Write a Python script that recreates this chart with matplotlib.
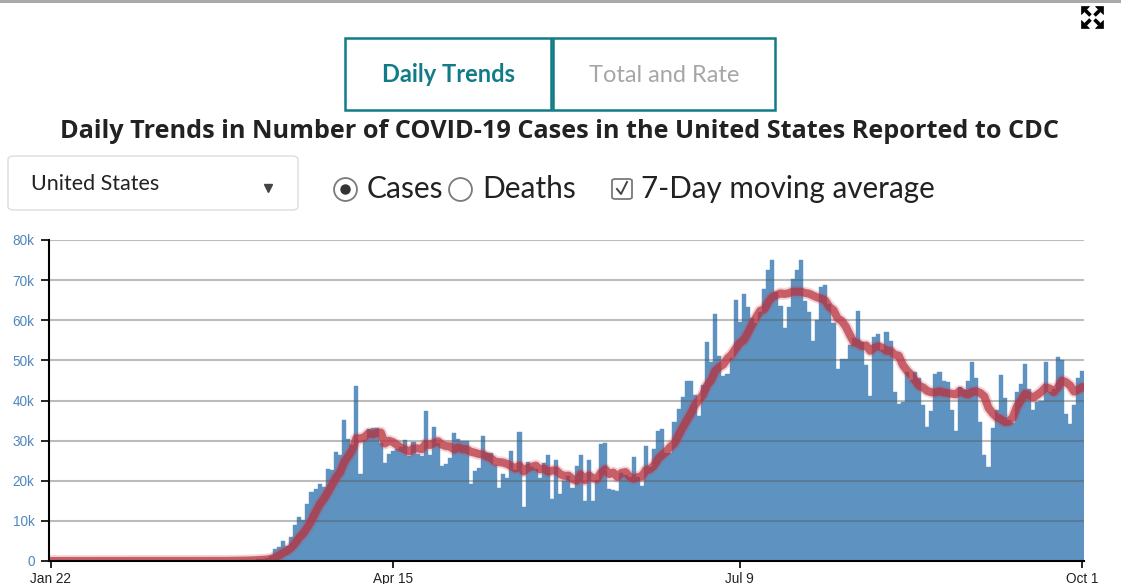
import matplotlib
matplotlib.use("Agg")
import matplotlib.pyplot as plt
import numpy as np
import pandas as pd
from matplotlib.patches import Rectangle, FancyBboxPatch, Polygon
from matplotlib.lines import Line2D

# ---------------- data: daily new COVID-19 cases reported to CDC (2020) ----------------
jan = [0, 0, 0, 0, 0, 0, 0, 0, 0, 0]                                   # Jan 22-31
feb = [0, 0, 0, 0, 0, 0, 0, 0, 0, 0, 0, 0, 0, 0, 0, 0, 0, 0, 0, 0,
       0, 0, 0, 0, 0, 0, 0, 0, 10]
mar = [20, 25, 30, 40, 60, 80, 100, 120, 150, 200, 250, 350, 450, 550, 700, 1200,
       2900, 3500, 5000, 3700, 6000, 8900, 11000, 10100, 14100, 17100, 18000, 19300,
       18400, 22900, 22600]
apr = [27200, 26400, 35100, 30500, 29000, 43600, 21600, 30100, 33000, 33200, 33200,
       29400, 24400, 26600, 27400, 28000, 28500, 30100, 26200, 29600, 26600, 26100,
       37300, 26500, 33300, 29500, 23600, 24100, 25600, 31800]
may = [30500, 29800, 29800, 19100, 22400, 23300, 31100, 26800, 26800, 23900, 18200,
       21600, 20800, 27300, 22600, 32100, 13500, 24600, 23400, 22900, 20700, 24300,
       26300, 15500, 25100, 16600, 19900, 21300, 18200, 23600, 26300]
jun = [15000, 25100, 15000, 20100, 29100, 29300, 18000, 17700, 17500, 22000, 21500,
       21000, 25800, 21000, 18800, 28700, 23500, 27900, 32500, 32800, 26800, 27000,
       34700, 37900, 40900, 44900, 44900, 41400, 36200, 43900]
jul = [54500, 49700, 61500, 51100, 46100, 46600, 50500, 65000, 59600, 66500, 63400,
       60600, 59200, 62100, 67700, 72400, 75000, 67000, 63500, 58100, 63400, 70400,
       72500, 75000, 64800, 62100, 54900, 60100, 68400, 68800, 64000]
aug = [59400, 47900, 50300, 50400, 53900, 55500, 62300, 54700, 48900, 41000, 55800,
       56600, 52600, 57000, 54800, 42100, 39200, 39700, 47000, 45100, 47000, 45600,
       38800, 33400, 37400, 46600, 47100, 44900, 44600, 37700, 32500]
sep = [43300, 42500, 44900, 49600, 45600, 34700, 26400, 23500, 33200, 37700, 46400,
       40600, 35200, 34500, 42000, 44100, 49100, 42900, 37700, 39700, 39800, 49600,
       42200, 42800, 50800, 50000, 36700, 34200, 38800, 45600]
octo = [47400]

start_date = "2020-01-22"
tick_dates = ["2020-01-22", "2020-04-15", "2020-07-09", "2020-10-01"]
tick_labels = ["Jan 22", "Apr 15", "Jul 9", "Oct 1"]
y_ticks = [0, 10000, 20000, 30000, 40000, 50000, 60000, 70000, 80000]
y_labels = ["0", "10k", "20k", "30k", "40k", "50k", "60k", "70k", "80k"]

cases = np.array(jan + feb + mar + apr + may + jun + jul + aug + sep + octo, dtype=float)
x = np.arange(len(cases))
avg7 = pd.Series(cases).rolling(7, min_periods=1).mean().values
tick_pos = [(pd.Timestamp(d) - pd.Timestamp(start_date)).days for d in tick_dates]

# ---------------- figure ----------------
W, H = 1121, 584
fig = plt.figure(figsize=(W / 100, H / 100), dpi=100)


def fx(px):
    return px / W


def fy(py):
    return 1 - py / H


BAR = "#5e93c1"
TEAL = "#117c87"

# top gray rule
fig.add_artist(Rectangle((0, fy(3)), 1, 3 / H, transform=fig.transFigure,
                         fc="#a9a9a9", ec="none"))

# expand icon (top right): an X with arrowheads at the four corners
cx, cy, r = 1092.5, 17.5, 11
for sx, sy in [(-1, -1), (1, -1), (-1, 1), (1, 1)]:
    fig.add_artist(Line2D([fx(cx + sx * 2), fx(cx + sx * (r - 4))],
                          [fy(cy + sy * 2), fy(cy + sy * (r - 4))],
                          transform=fig.transFigure, color="black", lw=2.6,
                          solid_capstyle="butt"))
    tip = (cx + sx * r, cy + sy * r)
    p1 = (cx + sx * r, cy + sy * (r - 8))
    p2 = (cx + sx * (r - 8), cy + sy * r)
    fig.add_artist(Polygon([(fx(tip[0]), fy(tip[1])), (fx(p1[0]), fy(p1[1])),
                            (fx(p2[0]), fy(p2[1]))], closed=True,
                           transform=fig.transFigure, fc="black", ec="black", lw=0.5))

# tabs
fig.add_artist(Rectangle((fx(345), fy(110)), 206 / W, 72 / H, transform=fig.transFigure,
                         fill=False, ec=TEAL, lw=1.8))
fig.add_artist(Rectangle((fx(553), fy(110)), 222 / W, 72 / H, transform=fig.transFigure,
                         fill=False, ec=TEAL, lw=1.8))
fig.text(fx(448), fy(75), "Daily Trends", ha="center", va="center", color=TEAL,
         fontsize=17, fontweight="bold", family="Lato")
fig.text(fx(664), fy(75), "Total and Rate", ha="center", va="center", color="#a6a6a6",
         fontsize=17, family="Lato")

# title
fig.text(fx(559.5), fy(131), "Daily Trends in Number of COVID-19 Cases in the United States Reported to CDC",
         ha="center", va="center", color="#222222", fontsize=18.2, fontweight="bold",
         family="Open Sans")

# dropdown
fig.add_artist(FancyBboxPatch((fx(8), fy(210)), 290 / W, 54 / H, transform=fig.transFigure,
                              boxstyle="round,pad=0,rounding_size=0.006",
                              fc="white", ec="#dcdcdc", lw=1.0))
fig.text(fx(31), fy(184), "United States", ha="left", va="center", color="#222222",
         fontsize=15.5, family="Lato")
fig.add_artist(Line2D([fx(268)], [fy(187.5)], transform=fig.transFigure, marker="v",
                      ms=5.2, color="#444444", mec="#444444"))

# radio buttons and checkbox
fig.add_artist(Line2D([fx(345)], [fy(189)], transform=fig.transFigure, marker="o",
                      ms=16.5, mfc="white", mec="#7a7a7a", mew=1.3))
fig.add_artist(Line2D([fx(345)], [fy(189)], transform=fig.transFigure, marker="o",
                      ms=6.5, mfc="#333333", mec="#333333"))
fig.text(fx(367), fy(189), "Cases", ha="left", va="center", color="#222222",
         fontsize=21.5, family="Lato")
fig.add_artist(Line2D([fx(460)], [fy(189)], transform=fig.transFigure, marker="o",
                      ms=16.5, mfc="white", mec="#7a7a7a", mew=1.3))
fig.text(fx(482), fy(189), "Deaths", ha="left", va="center", color="#222222",
         fontsize=21.5, family="Lato")
fig.add_artist(FancyBboxPatch((fx(612), fy(199)), 20 / W, 20 / H, transform=fig.transFigure,
                              boxstyle="round,pad=0,rounding_size=0.003",
                              fc="white", ec="#7a7a7a", lw=1.3))
fig.add_artist(Line2D([fx(617), fx(621), fx(627)], [fy(189), fy(194), fy(182)],
                      transform=fig.transFigure, color="#444444", lw=1.4))
fig.text(fx(641), fy(189), "7-Day moving average", ha="left", va="center",
         color="#222222", fontsize=21.3, family="Lato")

# ---------------- chart ----------------
ax = fig.add_axes([fx(48.5), fy(561), (1084.3 - 48.5) / W, (561 - 240) / H])
ax.bar(x, cases, width=1.0, color=BAR, edgecolor=BAR, linewidth=0.3, zorder=2)
for yt in y_ticks[1:]:
    ax.axhline(yt, color="#555555", alpha=0.4, lw=1.5, zorder=3)
ax.plot(x, avg7, color="#c8404a", lw=8.5, alpha=0.22, zorder=4, solid_capstyle="round")
ax.plot(x, avg7, color="#b8323d", lw=5.8, alpha=0.72, zorder=5, solid_capstyle="round")

ax.set_xlim(-0.5, len(cases) - 0.5)
ax.set_ylim(0, 80000)
ax.set_yticks(y_ticks)
ax.set_yticklabels(y_labels)
ax.set_xticks(tick_pos)
ax.set_xticklabels(tick_labels)
for s in ["top", "right"]:
    ax.spines[s].set_visible(False)
for s in ["left", "bottom"]:
    ax.spines[s].set_color("black")
    ax.spines[s].set_linewidth(1.5)
    ax.spines[s].set_zorder(6)
ax.tick_params(axis="y", length=6, width=1.2, color="black", pad=4,
               labelcolor="#4f87c2", labelsize=9.8)
ax.tick_params(axis="x", length=5, width=1.2, color="black", pad=3,
               labelcolor="#222222", labelsize=9.8)
for lab in ax.get_xticklabels() + ax.get_yticklabels():
    lab.set_family("Liberation Sans")
ax.set_facecolor("none")

fig.savefig("out.png", dpi=100)
